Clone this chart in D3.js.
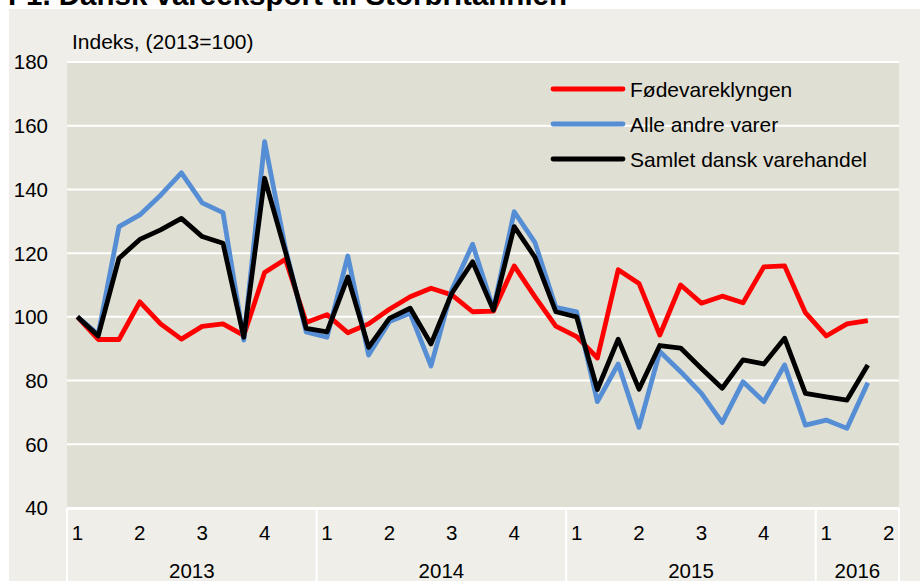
<!DOCTYPE html>
<html>
<head>
<meta charset="utf-8">
<script src="https://cdn.jsdelivr.net/npm/d3@7"></script>
<style>
  body { margin: 0; background: #fff; }
  text { font-family: "Liberation Sans", Arial, sans-serif; fill: #000; }
</style>
</head>
<body>
<svg id="chart"></svg>
<script>
const years = ['2013', '2014', '2015', '2016'];
const monthsPerYear = [12, 12, 12, 4];
const quarterLabels = ['1', '2', '3', '4'];
const yTicks = [40, 60, 80, 100, 120, 140, 160, 180];

const seriesNames = ['Fødevareklyngen', 'Alle andre varer', 'Samlet dansk varehandel'];
const seriesColors = ['#ff0000', '#558ed5', '#000000'];

const food = [100, 92.9, 92.9, 104.7, 97.8, 93.0, 97.0, 97.8, 94.2, 113.9, 118.1, 98.2,
    100.7, 95.0, 97.8, 102.4, 106.3, 109.0, 106.9, 101.6, 101.8, 116.0, 106.3, 97.1,
    93.8, 87.1, 114.8, 110.5, 94.3, 110.0, 104.3, 106.5, 104.4, 115.7, 116.0, 101.3,
    94.0, 97.8, 98.8];
const others = [100, 94.5, 128.3, 132.0, 138.2, 145.2, 135.8, 132.7, 92.7, 155.0, 121.5, 95.3,
    93.6, 119.1, 88.0, 98.5, 101.1, 84.6, 108.4, 122.8, 102.4, 133.0, 123.3, 103.0,
    101.6, 73.4, 85.2, 65.3, 89.1, 82.8, 76.0, 66.8, 79.6, 73.4, 84.9, 66.0,
    67.6, 65.0, 79.3];
const total = [100, 94.0, 118.4, 124.3, 127.3, 130.9, 125.2, 123.1, 93.6, 143.5, 120.5, 96.4,
    95.3, 112.5, 90.4, 99.5, 102.7, 91.5, 107.4, 117.3, 102.1, 128.3, 118.7, 101.6,
    100.0, 77.2, 93.0, 77.3, 91.0, 90.2, 83.8, 77.6, 86.5, 85.2, 93.3, 76.0,
    74.9, 73.9, 84.9];
const allSeries = [food, others, total];

// month categories, e.g. "2013-1"
let months = [];
years.forEach((yr, i) => {
    for (let m = 1; m <= monthsPerYear[i]; m++) months.push(yr + '-' + m);
});

const width = 920, height = 581;
const plotLeft = 67, plotRight = 899, plotTop = 62, plotBottom = 508;

const svg = d3.select('#chart').attr('width', width).attr('height', height);

// panel background
svg.append('rect').attr('x', 9).attr('y', 9).attr('width', width - 9).attr('height', height - 9)
    .attr('fill', '#efeee8');

svg.append('text')
    .attr('x', 8).attr('y', 5)
    .style('font-size', '29.5px').style('font-weight', 'bold')
    .text('F1. Dansk vareeksport til Storbritannien');

const x = d3.scaleBand().domain(months).range([plotLeft, plotRight]);
const y = d3.scaleLinear().domain([40, 180]).range([plotBottom, plotTop]);

// plot area
svg.append('rect').attr('x', plotLeft).attr('y', plotTop)
    .attr('width', plotRight - plotLeft).attr('height', plotBottom - plotTop)
    .attr('fill', '#e0dfd3');

svg.append('g').selectAll('line')
    .data(yTicks)
    .join('line')
    .attr('x1', plotLeft).attr('x2', plotRight)
    .attr('y1', d => y(d)).attr('y2', d => y(d))
    .attr('stroke', '#fff').attr('stroke-width', 2);

// y axis labels
svg.append('g').selectAll('text')
    .data(yTicks)
    .join('text')
    .attr('x', 48).attr('y', d => y(d))
    .attr('text-anchor', 'end').attr('dy', '0.36em')
    .style('font-size', '20.5px')
    .text(d => d);

svg.append('text')
    .attr('x', 72).attr('y', 49)
    .style('font-size', '21px')
    .text('Indeks, (2013=100)');

// x axis: quarter and year labels with separators
let start = 0;
let yearBounds = [];
years.forEach((yr, i) => {
    yearBounds.push({ year: yr, first: months[start], last: months[start + monthsPerYear[i] - 1] });
    start += monthsPerYear[i];
});

const axisG = svg.append('g');
axisG.append('line')
    .attr('x1', plotLeft).attr('x2', plotRight).attr('y1', plotBottom + 1).attr('y2', plotBottom + 1)
    .attr('stroke', '#fff').attr('stroke-width', 2);

let sepX = [plotLeft].concat(yearBounds.map(b => x(b.last) + x.bandwidth()));
axisG.selectAll('line.sep')
    .data(sepX)
    .join('line')
    .attr('class', 'sep')
    .attr('x1', d => d).attr('x2', d => d)
    .attr('y1', plotBottom).attr('y2', height)
    .attr('stroke', '#fff').attr('stroke-width', 2);

const quarterStarts = months.filter(m => (+m.split('-')[1] - 1) % 3 === 0);
axisG.selectAll('text.q')
    .data(quarterStarts)
    .join('text')
    .attr('class', 'q')
    .attr('x', d => x(d) + x.bandwidth() / 2)
    .attr('y', 533).attr('dy', '0.36em')
    .attr('text-anchor', 'middle')
    .style('font-size', '20.5px')
    .text(d => quarterLabels[(+d.split('-')[1] - 1) / 3]);

axisG.selectAll('text.yr')
    .data(yearBounds)
    .join('text')
    .attr('class', 'yr')
    .attr('x', d => (x(d.first) + x(d.last) + x.bandwidth()) / 2)
    .attr('y', 571).attr('dy', '0.36em')
    .attr('text-anchor', 'middle')
    .style('font-size', '20.5px')
    .text(d => d.year);

// lines
const line = d3.line()
    .x((d, i) => x(months[i]) + x.bandwidth() / 2)
    .y(d => y(d));

svg.append('g').selectAll('path')
    .data(allSeries)
    .join('path')
    .attr('d', d => line(d))
    .attr('fill', 'none')
    .attr('stroke', (d, i) => seriesColors[i])
    .attr('stroke-width', 4.8)
    .attr('stroke-linejoin', 'round');

// legend
const legend = svg.append('g').selectAll('g')
    .data(seriesNames)
    .join('g')
    .attr('transform', (d, i) => 'translate(553,' + (89 + i * 35) + ')');
legend.append('line')
    .attr('x1', 0).attr('x2', 70)
    .attr('stroke', (d, i) => seriesColors[i])
    .attr('stroke-width', 4.8)
    .attr('stroke-linecap', 'round');
legend.append('text')
    .attr('x', 77).attr('dy', '0.36em')
    .style('font-size', '21px')
    .text(d => d);
</script>
</body>
</html>
